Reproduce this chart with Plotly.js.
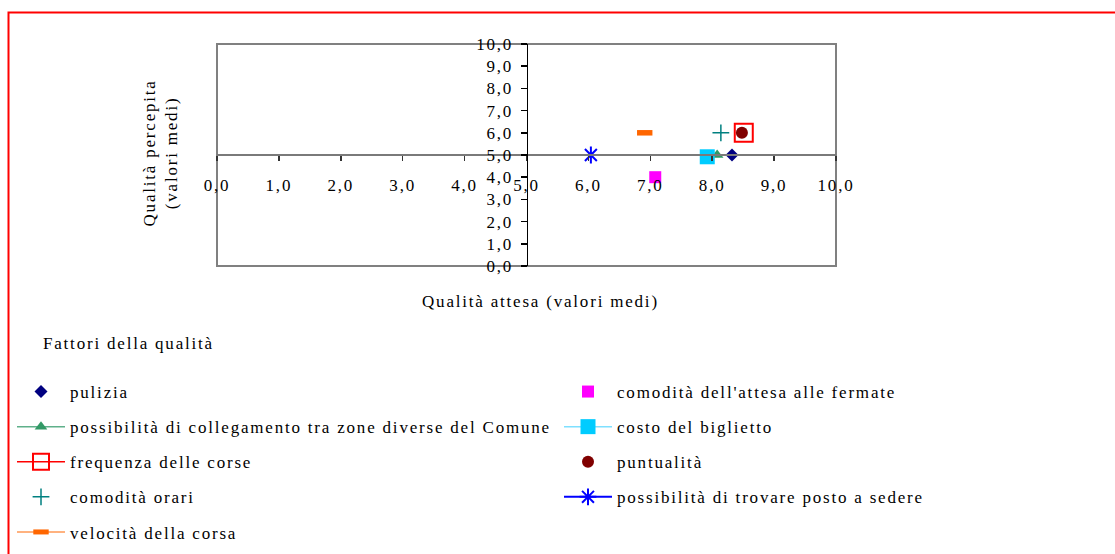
<!DOCTYPE html>
<html>
<head>
<meta charset="utf-8">
<script src="https://cdn.plot.ly/plotly-3.0.1.min.js"></script>
<style>
  html, body { margin: 0; padding: 0; background: #fff; }
  #chart { width: 1115px; height: 554px; }
  svg text { letter-spacing: 1.8px; }
</style>
</head>
<body>
<div id="chart"></div>
<script>
// ---- data ----
const factors = [
  "pulizia",
  "comodità dell'attesa alle fermate",
  "possibilità di collegamento tra zone diverse del Comune",
  "costo del biglietto",
  "frequenza delle corse",
  "puntualità",
  "comodità orari",
  "possibilità di trovare posto a sedere",
  "velocità della corsa"
];
const qualitaAttesa    = [8.32, 7.08, 8.08, 7.92, 8.51, 8.48, 8.14, 6.04, 6.91];
const qualitaPercepita = [5.0, 4.0, 5.0, 4.92, 6.0, 6.0, 6.0, 5.0, 6.0];
const xTitle = "Qualità attesa (valori medi)";
const yTitle = "Qualità percepita<br>(valori medi)";
const legendTitle = "Fattori della qualità";

// ---- styles ----
const styles = [
  {mode: 'markers', legend: 'legend',  marker: {symbol: 'diamond', size: 10, color: '#000080'}},
  {mode: 'markers', legend: 'legend2', marker: {symbol: 'square', size: 12, color: '#ff00ff'}},
  {mode: 'lines+markers', legend: 'legend', line: {color: '#5fb08a', width: 1.5}, marker: {symbol: 'triangle-up', size: 11, color: '#339966'}},
  {mode: 'lines+markers', legend: 'legend2', line: {color: '#7fe0ff', width: 1.5}, marker: {symbol: 'square', size: 15, color: '#00ccff'}},
  {mode: 'lines+markers', legend: 'legend', line: {color: '#ff0000', width: 1.5}, marker: {symbol: 'square-open', size: 18, color: '#ff0000', line: {width: 2, color: '#ff0000'}}},
  {mode: 'markers', legend: 'legend2', marker: {symbol: 'circle', size: 12, color: '#800000'}},
  {mode: 'markers', legend: 'legend', marker: {symbol: 'cross-thin-open', size: 12, color: '#008080', line: {width: 1.5, color: '#008080'}}},
  {mode: 'lines+markers', legend: 'legend2', line: {color: '#0000ff', width: 2}, marker: {symbol: 'asterisk-open', size: 14, color: '#0000ff', line: {width: 2, color: '#0000ff'}}},
  {mode: 'lines+markers', legend: 'legend', line: {color: '#ff9955', width: 1.5}, marker: {symbol: 'line-ew-open', size: 11, color: '#ff6600', line: {width: 5.5, color: '#ff6600'}}}
];

const traces = factors.map((name, i) => Object.assign({
  type: 'scatter',
  name: name,
  x: [qualitaAttesa[i]],
  y: [qualitaPercepita[i]],
  legendgroup: 'g' + i,
  showlegend: true,
  hoverinfo: 'skip'
}, styles[i]));

const FONT = 'Liberation Serif, Times New Roman, serif';

// pixel helpers for paper coordinates (plot area: x 217..836, y 44..266)
const L = 217, R = 836, T = 44, B = 266;
const px = v => (v - L) / (R - L);
const py = v => (B - v) / (B - T);

const legendBase = {
  xanchor: 'left', yanchor: 'top',
  orientation: 'v', tracegroupgap: 10, itemwidth: 48,
  bgcolor: 'rgba(0,0,0,0)', borderwidth: 0,
  font: {family: FONT, size: 17, color: '#000'},
  itemclick: false, itemdoubleclick: false
};

const layout = {
  width: 1115, height: 554,
  margin: {l: L, r: 1115 - R, t: T, b: 554 - B, pad: 0, autoexpand: false},
  paper_bgcolor: '#ffffff',
  plot_bgcolor: '#ffffff',
  separators: ', ',
  font: {family: FONT, size: 17, color: '#000'},
  showlegend: true,
  xaxis: {
    range: [0, 10], dtick: 1, tick0: 0, tickformat: '.1f',
    anchor: 'free', position: 0.5, side: 'bottom',
    showgrid: false, zeroline: false,
    showline: true, linecolor: '#7a7a7a', linewidth: 2,
    ticks: 'outside', ticklen: 5, tickwidth: 1.5, tickcolor: '#333',
    ticklabelstandoff: 10,
    tickfont: {family: FONT, size: 17, color: '#000'},
    fixedrange: true
  },
  yaxis: {
    range: [0, 10], dtick: 1, tick0: 0, tickformat: '.1f',
    anchor: 'free', position: 0.5, side: 'left',
    showgrid: false, zeroline: false,
    showline: true, linecolor: '#000', linewidth: 1.5,
    ticks: 'outside', ticklen: 6, tickwidth: 1.5, tickcolor: '#000',
    ticklabelstandoff: 4,
    tickfont: {family: FONT, size: 17, color: '#000'},
    fixedrange: true
  },
  legend: Object.assign({x: px(12), y: py(374)}, legendBase),
  legend2: Object.assign({x: px(559), y: py(374)}, legendBase),
  shapes: [
    {type: 'rect', xref: 'paper', yref: 'paper', x0: 0, x1: 1, y0: 0, y1: 1,
     line: {color: '#808080', width: 2}, layer: 'below'},
    {type: 'rect', xref: 'paper', yref: 'paper', x0: px(8.5), x1: 1.6, y0: py(12.5), y1: -1.6,
     line: {color: '#ff0000', width: 2}, layer: 'below'}
  ],
  annotations: [
    {text: xTitle, xref: 'paper', yref: 'paper', x: px(540), y: py(301),
     xanchor: 'center', yanchor: 'middle', showarrow: false,
     font: {family: FONT, size: 17, color: '#000'}},
    {text: yTitle, xref: 'paper', yref: 'paper', x: px(160), y: py(153.5),
     xanchor: 'center', yanchor: 'middle', showarrow: false, textangle: -90,
     font: {family: FONT, size: 17, color: '#000'}},
    {text: legendTitle, xref: 'paper', yref: 'paper', x: px(41), y: py(343),
     xanchor: 'left', yanchor: 'middle', showarrow: false,
     font: {family: FONT, size: 17, color: '#000'}}
  ]
};

Plotly.newPlot('chart', traces, layout, {displayModeBar: false, staticPlot: true});
</script>
</body>
</html>
